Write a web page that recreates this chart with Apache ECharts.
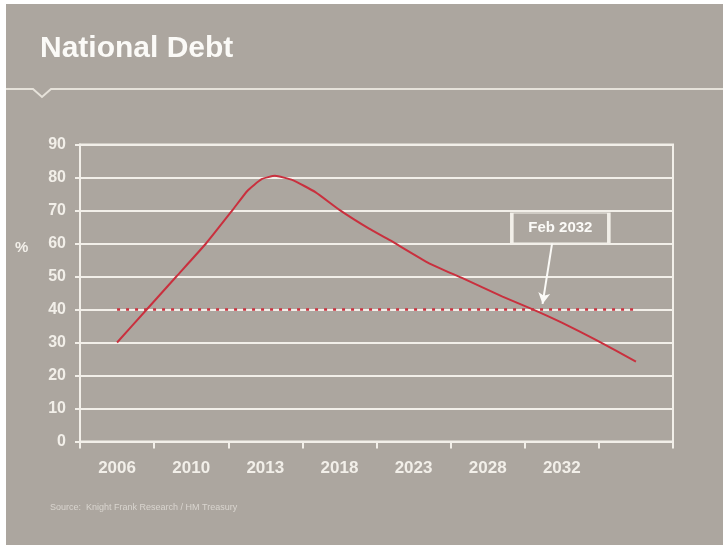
<!DOCTYPE html>
<html>
<head>
<meta charset="utf-8">
<script src="https://cdn.jsdelivr.net/npm/echarts@6/dist/echarts.min.js"></script>
<style>
html, body { margin: 0; padding: 0; background: #fff; }
#chart { position: absolute; left: 6px; top: 4px; width: 717px; height: 541px; }
</style>
</head>
<body>
<div id="chart"></div>
<script>
var categories = ['2006', '2010', '2013', '2018', '2023', '2028', '2032', ''];
var yTicks = [0, 90, 10];

// position along the category axis (0 = the 2006 slot) and debt in %
var debtPos = [0, 0.4, 0.8, 1.2, 1.56, 1.76, 1.95, 2.13, 2.37, 2.68, 3.0, 3.4, 3.68, 4.21, 4.66, 5.2, 5.6, 6.0, 6.46, 7.0];
var debtPct = [30, 40, 50, 60, 70.2, 76, 79.5, 80.5, 79.2, 75.5, 70.2, 64.5, 61, 54, 49.5, 43.9, 40.1, 36, 30.8, 24.2];

var thresholdPos = [0, 7];
var thresholdPct = [40, 40];

var noteText = 'Feb 2032';
var notePos = [5.98, 64.7];
var arrowFrom = [5.87, 60.2];
var arrowTo = [5.74, 41.7];

var bg = '#aca69f';
var light = '#f2efe9';
var red = '#c9303e';

var chart = echarts.init(document.getElementById('chart'));

var debtData = [];
for (var i = 0; i < debtPos.length; i++) {
  debtData.push([debtPos[i], debtPct[i]]);
}
var thresholdData = [];
for (var j = 0; j < thresholdPos.length; j++) {
  thresholdData.push([thresholdPos[j], thresholdPct[j]]);
}

var option = {
  backgroundColor: bg,
  animation: false,
  textStyle: { fontFamily: 'Liberation Sans, Arial, sans-serif' },
  grid: {
    left: 74,
    right: 50,
    top: 140.5,
    bottom: 103.5,
    show: true,
    borderColor: light,
    borderWidth: 2,
    backgroundColor: 'transparent'
  },
  graphic: [
    {
      type: 'text',
      left: 34,
      top: 30,
      style: {
        text: 'National Debt',
        fill: '#fbfaf7',
        font: 'bold 30px "Liberation Sans", Arial, sans-serif'
      }
    },
    {
      type: 'polyline',
      shape: { points: [[0, 85], [27, 85], [36, 93], [45, 85], [717, 85]] },
      style: { stroke: '#e6e2da', lineWidth: 2, fill: null }
    },
    {
      type: 'text',
      left: 9,
      top: 236,
      style: {
        text: '%',
        fill: light,
        font: 'bold 15px "Liberation Sans", Arial, sans-serif'
      }
    },
    {
      type: 'text',
      left: 44,
      top: 499,
      style: {
        text: 'Source:  Knight Frank Research / HM Treasury',
        fill: '#d9d5cf',
        font: '9px "Liberation Sans", Arial, sans-serif'
      }
    }
  ],
  xAxis: [
    {
      type: 'category',
      data: categories,
      boundaryGap: true,
      axisLine: { lineStyle: { color: light, width: 2 } },
      axisTick: { show: true, length: 7, lineStyle: { color: light, width: 2 } },
      axisLabel: { color: light, fontWeight: 'bold', fontSize: 17, margin: 18 },
      splitLine: { show: false }
    },
    {
      type: 'value',
      min: -0.5,
      max: 7.5,
      show: false
    }
  ],
  yAxis: {
    type: 'value',
    min: yTicks[0],
    max: yTicks[1],
    interval: yTicks[2],
    axisLine: { show: true, onZero: false, lineStyle: { color: light, width: 2 } },
    axisTick: { show: true, length: 5, lineStyle: { color: light, width: 2 } },
    axisLabel: { color: light, fontWeight: 'bold', fontSize: 16, margin: 14 },
    splitLine: { show: true, lineStyle: { color: light, width: 2 } }
  },
  series: [
    {
      name: 'threshold',
      type: 'line',
      xAxisIndex: 1,
      data: thresholdData,
      symbol: 'none',
      lineStyle: { color: red, width: 2.5, type: [3, 6] },
      z: 3
    },
    {
      name: 'National debt',
      type: 'line',
      xAxisIndex: 1,
      data: debtData,
      symbol: 'none',
      smooth: 0.15,
      lineStyle: { color: red, width: 2 },
      z: 4,
      markPoint: {
        symbol: 'rect',
        symbolSize: [97, 30],
        itemStyle: { color: bg, borderColor: light, borderWidth: 2 },
        label: {
          show: true,
          position: 'inside',
          formatter: noteText,
          color: '#fbfaf7',
          fontWeight: 'bold',
          fontSize: 15
        },
        data: [{ coord: notePos }]
      },
      markLine: {
        silent: true,
        symbol: ['none', 'arrow'],
        symbolSize: [9, 11],
        label: { show: false },
        lineStyle: { color: '#fbfaf7', width: 2, type: 'solid' },
        data: [[{ coord: arrowFrom }, { coord: arrowTo }]]
      }
    }
  ]
};

chart.setOption(option);
</script>
</body>
</html>
